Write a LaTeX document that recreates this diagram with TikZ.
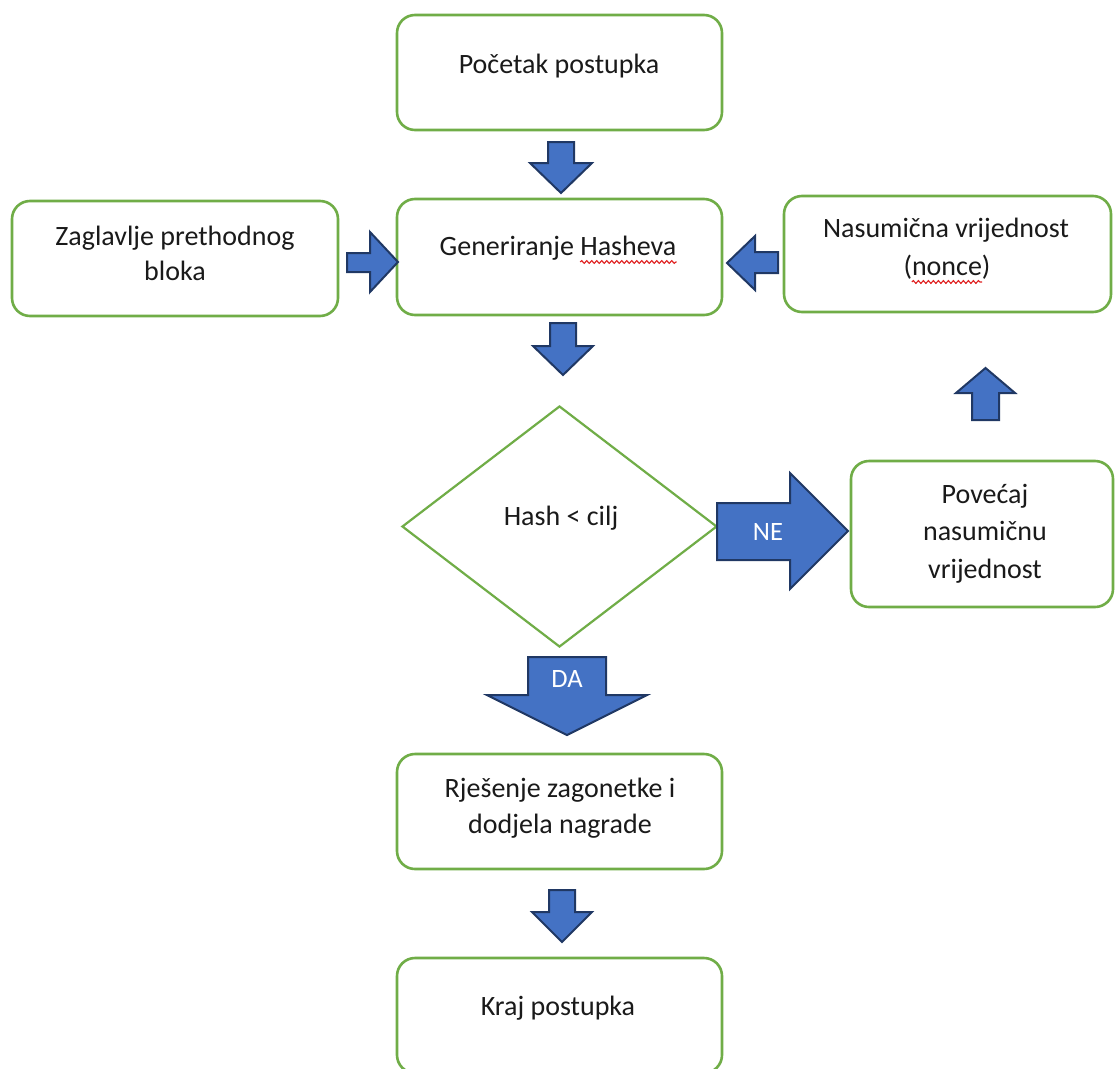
\documentclass[tikz,border=0pt]{standalone}
\usepackage{fontspec}
\setmainfont{Carlito}
\usetikzlibrary{shapes.geometric,decorations.pathmorphing,calc}
\definecolor{boxgreen}{HTML}{70AD47}
\definecolor{arrowfill}{HTML}{4472C4}
\definecolor{arrowline}{HTML}{203864}
\definecolor{txtcol}{HTML}{1A1A1A}
\definecolor{wavered}{HTML}{E02020}
\begin{document}
\begin{tikzpicture}[x=1pt,y=-1pt,
  box/.style={draw=boxgreen, line width=2.6pt, rounded corners=18pt, fill=white, inner sep=0pt},
  decision/.style={diamond, draw=boxgreen, line width=2.2pt, fill=white, inner sep=0pt, minimum width=315pt, minimum height=241pt},
  txt/.style={font=\fontsize{28}{36}\selectfont, text=txtcol, inner sep=0pt, anchor=base},
  lbl/.style={font=\fontsize{26.5}{32}\selectfont, text=white, inner sep=0pt, anchor=base},
  blk/.style={fill=arrowfill, draw=arrowline, line width=2pt, line join=miter},
  wave/.style={draw=wavered, line width=1.1pt, decorate, decoration={snake, amplitude=1.4pt, segment length=5pt}}]
\useasboundingbox (0,0) rectangle (1115,1068);
\fill[white] (0,0) rectangle (1115,1068);

% boxes
\node[box, minimum width=325pt, minimum height=115pt] (start) at (559.5,72.5) {};
\node[box, minimum width=326pt, minimum height=115pt] (zag) at (175,258.5) {};
\node[box, minimum width=325pt, minimum height=116pt] (gen) at (559.5,257) {};
\node[box, minimum width=327pt, minimum height=116pt] (nas) at (947.5,254) {};
\node[decision] (hash) at (559.5,526.5) {};
\node[box, minimum width=262pt, minimum height=146pt] (pov) at (982,534) {};
\node[box, minimum width=325pt, minimum height=115pt] (rje) at (559.5,811.5) {};
\node[box, minimum width=325pt, minimum height=115pt] (kraj) at (559.5,1015.5) {};

% texts
\node[txt] (tstart) at (559,73) {Početak postupka};
\node[txt] (tzag1) at (175,245) {Zaglavlje prethodnog};
\node[txt] (tzag2) at (175,280) {bloka};
\node[txt] (tgen) at (558,255) {Generiranje Hasheva};
\node[txt] (tnas1) at (946,237) {Nasumična vrijednost};
\node[txt] (tnas2) at (947,275) {(nonce)};
\node[txt] (thash) at (561,525) {Hash < cilj};
\node[txt] (tpov1) at (985,503) {Povećaj};
\node[txt] (tpov2) at (985,540) {nasumičnu};
\node[txt] (tpov3) at (985,578) {vrijednost};
\node[txt] (trje1) at (560,797) {Rješenje zagonetke i};
\node[txt] (trje2) at (560,833) {dodjela nagrade};
\node[txt] (tkraj) at (558,1015) {Kraj postupka};

% spell-check wavy underlines
\node[txt, anchor=base east] (hw) at (tgen.base east) {\phantom{Hasheva}};
\draw[wave] ($(hw.base west)+(0,7)$) -- ($(hw.base east)+(0,7)$);
\node[txt, anchor=base east] (nw) at ($(tnas2.base east)+(-8.5,0)$) {\phantom{nonce}};
\draw[wave] ($(nw.base west)+(0,7)$) -- ($(nw.base east)+(0,7)$);

% block arrows
\filldraw[blk] (548,142) -- (574,142) -- (574,163) -- (592,163) -- (561,193) -- (530,163) -- (548,163) -- cycle;
\filldraw[blk] (347,253) -- (370,253) -- (370,232) -- (398,262) -- (370,292) -- (370,272) -- (347,272) -- cycle;
\filldraw[blk] (778,252) -- (755,252) -- (755,236) -- (727,263) -- (755,290) -- (755,273) -- (778,273) -- cycle;
\filldraw[blk] (550,323) -- (576,323) -- (576,346) -- (593,346) -- (563,375) -- (533,346) -- (550,346) -- cycle;
\filldraw[blk] (972,420) -- (972,393) -- (956,393) -- (985.5,368) -- (1015,393) -- (999,393) -- (999,420) -- cycle;
\filldraw[blk] (717,503) -- (790,503) -- (790,473) -- (848,531) -- (790,589) -- (790,560) -- (717,560) -- cycle;
\filldraw[blk] (528,657) -- (606,657) -- (606,695) -- (647,695) -- (567,735) -- (487,695) -- (528,695) -- cycle;
\filldraw[blk] (549,890) -- (575,890) -- (575,912) -- (592,912) -- (562,942) -- (532,912) -- (549,912) -- cycle;

\node[lbl] (ne) at (768,540) {NE};
\node[lbl] (da) at (567,687) {DA};
\end{tikzpicture}
\end{document}
